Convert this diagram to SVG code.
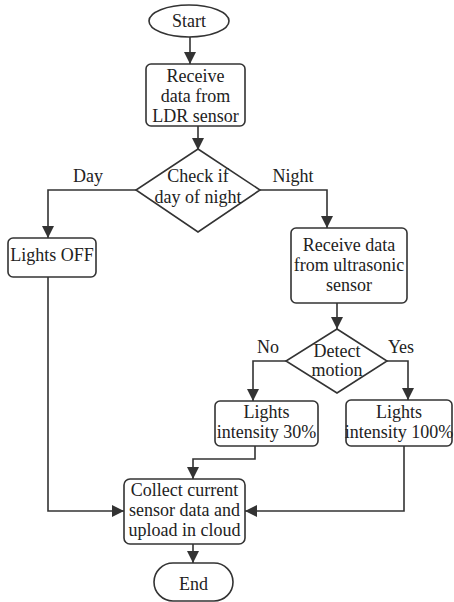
<svg xmlns="http://www.w3.org/2000/svg" width="454" height="602" viewBox="0 0 454 602">
<defs>
<marker id="a" markerUnits="userSpaceOnUse" markerWidth="12" markerHeight="12" refX="12" refY="6" orient="auto">
<path d="M0,0 L12,6 L0,12 z" fill="#333"/>
</marker>
</defs>
<rect width="454" height="602" fill="#fff"/>
<g font-family="Liberation Serif" font-size="18" text-anchor="middle">
<g id="connectors">
<g fill="none" stroke="#333" stroke-width="1.6" marker-end="url(#a)">
<path d="M190,37 V64"/>
<path d="M198,126 V150"/>
<path d="M136,190 H48 V238"/>
<path d="M260,190 H327 V228"/>
<path d="M337,303 V329"/>
<path d="M286,361 H253 V401"/>
<path d="M387,361 H408 V400"/>
<path d="M255,446 V459 H193 V479"/>
<path d="M404,446 V511 H245"/>
<path d="M48,277 V511 H124"/>
<path d="M193,544 V563"/>
</g>
<text fill="#222" x="88" y="182">Day</text>
<text fill="#222" x="293" y="182">Night</text>
<text fill="#222" x="268" y="353">No</text>
<text fill="#222" x="401" y="353">Yes</text>
</g>
<g id="start">
<ellipse fill="#fff" stroke="#333" stroke-width="1.6" cx="189" cy="21" rx="40" ry="16"/>
<text fill="#222" x="189" y="27">Start</text>
</g>
<g id="ldr">
<rect fill="#fff" stroke="#333" stroke-width="1.6" x="146" y="64" width="99" height="62" rx="5"/>
<text fill="#222" x="195.5" y="82">Receive</text>
<text fill="#222" x="195.5" y="102">data from</text>
<text fill="#222" x="195.5" y="122">LDR sensor</text>
</g>
<g id="check">
<polygon fill="#fff" stroke="#333" stroke-width="1.6" points="198,149 260,190 198,232 136,190"/>
<text fill="#222" x="198" y="182">Check if</text>
<text fill="#222" x="198" y="203">day of night</text>
</g>
<g id="off">
<rect fill="#fff" stroke="#333" stroke-width="1.6" x="8" y="238" width="88" height="39" rx="5"/>
<text fill="#222" x="52" y="261">Lights OFF</text>
</g>
<g id="ultra">
<rect fill="#fff" stroke="#333" stroke-width="1.6" x="291" y="228" width="116" height="75" rx="5"/>
<text fill="#222" x="349" y="251">Receive data</text>
<text fill="#222" x="349" y="271">from ultrasonic</text>
<text fill="#222" x="349" y="291">sensor</text>
</g>
<g id="motion">
<polygon fill="#fff" stroke="#333" stroke-width="1.6" points="337,329 387,361 337,393 286,361"/>
<text fill="#222" x="337" y="357">Detect</text>
<text fill="#222" x="337" y="376">motion</text>
</g>
<g id="l30">
<rect fill="#fff" stroke="#333" stroke-width="1.6" x="215" y="401" width="103" height="45" rx="5"/>
<text fill="#222" x="266.5" y="418">Lights</text>
<text fill="#222" x="266.5" y="438">intensity 30%</text>
</g>
<g id="l100">
<rect fill="#fff" stroke="#333" stroke-width="1.6" x="346" y="400" width="106" height="46" rx="5"/>
<text fill="#222" x="399" y="418">Lights</text>
<text fill="#222" x="399" y="438">intensity 100%</text>
</g>
<g id="collect">
<rect fill="#fff" stroke="#333" stroke-width="1.6" x="124" y="479" width="121" height="65" rx="6"/>
<text fill="#222" x="184.5" y="496">Collect current</text>
<text fill="#222" x="184.5" y="516">sensor data and</text>
<text fill="#222" x="184.5" y="536">upload in cloud</text>
</g>
<g id="end">
<rect fill="#fff" stroke="#333" stroke-width="1.6" x="154" y="563" width="79" height="38" rx="19"/>
<text fill="#222" x="193.5" y="590">End</text>
</g>
</g>
</svg>
